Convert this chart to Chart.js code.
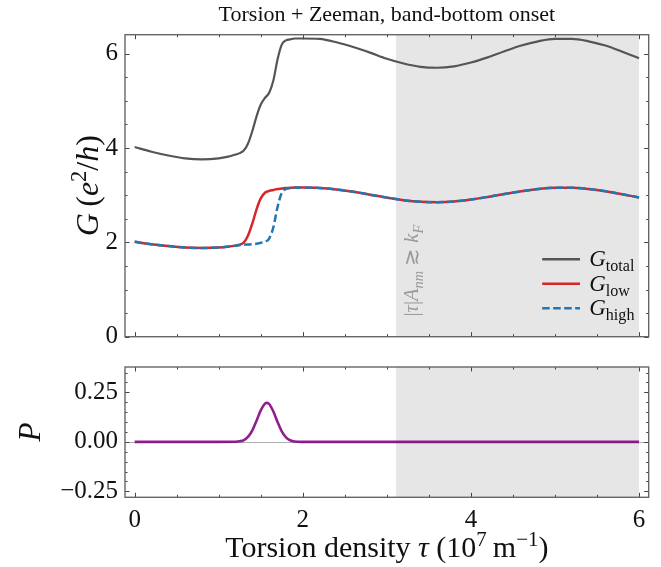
<!DOCTYPE html>
<html>
<head>
<meta charset="utf-8">
<script src="https://cdn.jsdelivr.net/npm/chart.js@4.4.0/dist/chart.umd.min.js"></script>
<style>
html, body { margin: 0; padding: 0; background: #fff; }
#wrap { position: relative; width: 661px; height: 567px; overflow: hidden; }
#top { position: absolute; left: 0; top: 0; }
#bot { position: absolute; left: 0; top: 345px; }
</style>
</head>
<body>
<div id="wrap">
  <canvas id="top" width="661" height="362"></canvas>
  <canvas id="bot" width="661" height="222"></canvas>
</div>
<script>
// torsion density (10^7 m^-1)
var tau = [0, 0.2, 0.4, 0.6, 0.8, 1.0, 1.1, 1.2, 1.25, 1.3, 1.35, 1.4, 1.45, 1.5, 1.55, 1.6, 1.65, 1.7, 1.75, 1.8, 1.85, 1.9,
           2.0, 2.2, 2.4, 2.6, 2.8, 3.0, 3.2, 3.4, 3.6, 3.8, 4.0, 4.2, 4.4, 4.6, 4.8, 5.0, 5.2, 5.4, 5.6, 5.8, 6.0];
var gTotal = [4.02, 3.92, 3.84, 3.78, 3.76, 3.78, 3.81, 3.86, 3.89, 3.95, 4.10, 4.36, 4.67, 4.92, 5.06, 5.17, 5.43, 5.88, 6.19, 6.28, 6.30, 6.32,
              6.32, 6.31, 6.24, 6.14, 6.02, 5.89, 5.79, 5.72, 5.70, 5.73, 5.81, 5.92, 6.05, 6.17, 6.26, 6.31, 6.31, 6.26, 6.17, 6.04, 5.90];
var gLow = [2.01, 1.96, 1.92, 1.89, 1.88, 1.89, 1.905, 1.93, 1.95, 2.00, 2.15, 2.40, 2.70, 2.93, 3.05, 3.09, 3.11, 3.13, 3.14, 3.15, 3.155, 3.16,
            3.16, 3.153, 3.121, 3.07, 3.009, 2.947, 2.894, 2.86, 2.85, 2.866, 2.906, 2.962, 3.025, 3.084, 3.13, 3.157, 3.157, 3.13, 3.084, 3.02, 2.95];
var gHigh = [2.01, 1.96, 1.92, 1.89, 1.88, 1.89, 1.905, 1.93, 1.94, 1.95, 1.955, 1.96, 1.97, 1.99, 2.01, 2.08, 2.32, 2.75, 3.05, 3.13, 3.15, 3.158,
             3.16, 3.153, 3.121, 3.07, 3.009, 2.947, 2.894, 2.86, 2.85, 2.866, 2.906, 2.962, 3.025, 3.084, 3.13, 3.157, 3.157, 3.13, 3.084, 3.02, 2.95];

// polarization
var tauP = [0, 0.5, 1.0, 1.2, 1.25, 1.3, 1.35, 1.4, 1.45, 1.5, 1.55, 1.575, 1.6, 1.65, 1.7, 1.75, 1.8, 1.85, 1.9, 2.0, 3.0, 4.0, 5.0, 6.0];
var pVals = [0, 0, 0, 0.0005, 0.003, 0.009, 0.026, 0.058, 0.107, 0.159, 0.193, 0.197, 0.191, 0.153, 0.100, 0.053, 0.023, 0.008, 0.002, 0, 0, 0, 0, 0];

// axes
var xRange = [-0.115, 6.115];
var xMajor = [0, 2, 4, 6];
var xMinor = [0.5, 1, 1.5, 2.5, 3, 3.5, 4.5, 5, 5.5];
var gRange = [0, 6.4];
var gMajor = [0, 2, 4, 6];
var gMinor = [0.5, 1, 1.5, 2.5, 3, 3.5, 4.5, 5, 5.5];
var pRange = [-0.28, 0.378];
var pMajor = [-0.25, 0, 0.25];
var pMinor = [-0.2, -0.15, -0.1, -0.05, 0.05, 0.1, 0.15, 0.2, 0.3, 0.35];
var shadeRange = [3.11, 6.0];

var FONT = '"Liberation Serif", "DejaVu Serif", serif';

function pts(xs, ys) {
    return xs.map(function (x, i) { return {x: x, y: ys[i]}; });
}
function fontStr(size, it) { return (it ? 'italic ' : '') + size + 'px ' + FONT; }
function partSize(p, size) { return (p.sub || p.sup) ? size * 0.7 : size; }
function richWidth(ctx, parts, size) {
    var w = 0;
    parts.forEach(function (p) {
        ctx.font = fontStr(partSize(p, size), p.it);
        w += ctx.measureText(p.t).width;
    });
    return w;
}
function drawRich(ctx, parts, x, y, size, align) {
    var w = richWidth(ctx, parts, size);
    var cx = align === 'center' ? x - w / 2 : (align === 'right' ? x - w : x);
    ctx.textAlign = 'left';
    ctx.textBaseline = 'alphabetic';
    parts.forEach(function (p) {
        ctx.font = fontStr(partSize(p, size), p.it);
        var dy = p.sub ? size * 0.22 : (p.sup ? -size * 0.38 : 0);
        ctx.fillText(p.t, cx, y + dy);
        cx += ctx.measureText(p.t).width;
    });
}

function tickMarks(ctx, area, sx, sy, xMaj, xMin, yMaj, yMin) {
    ctx.save();
    ctx.strokeStyle = '#444';
    ctx.lineWidth = 1;
    ctx.beginPath();
    function vt(vals, len) {
        vals.forEach(function (v) {
            var px = Math.round(sx.getPixelForValue(v)) + 0.5;
            ctx.moveTo(px, area.bottom); ctx.lineTo(px, area.bottom - len);
            ctx.moveTo(px, area.top); ctx.lineTo(px, area.top + len);
        });
    }
    function ht(vals, len) {
        vals.forEach(function (v) {
            var py = Math.round(sy.getPixelForValue(v)) + 0.5;
            ctx.moveTo(area.left, py); ctx.lineTo(area.left + len, py);
            ctx.moveTo(area.right, py); ctx.lineTo(area.right - len, py);
        });
    }
    vt(xMaj, 4.5); vt(xMin, 2.5); ht(yMaj, 4.5); ht(yMin, 2.5);
    ctx.stroke();
    ctx.strokeStyle = '#666';
    ctx.lineWidth = 1.4;
    ctx.strokeRect(area.left, area.top, area.right - area.left, area.bottom - area.top);
    ctx.restore();
}

function shade(chart) {
    var ctx = chart.ctx, a = chart.chartArea, sx = chart.scales.x;
    var x0 = sx.getPixelForValue(shadeRange[0]), x1 = sx.getPixelForValue(shadeRange[1]);
    ctx.save();
    ctx.fillStyle = '#e6e6e6';
    ctx.fillRect(x0, a.top, x1 - x0, a.bottom - a.top);
    ctx.restore();
}

var topPlugin = {
    id: 'topDecor',
    beforeDatasetsDraw: function (chart) {
        shade(chart);
        var ctx = chart.ctx, a = chart.chartArea;
        // onset annotation
        ctx.save();
        ctx.fillStyle = '#9a9a9a';
        ctx.translate(chart.scales.x.getPixelForValue(3.30) + 6, (a.top + a.bottom) / 2 + 85);
        ctx.rotate(-Math.PI / 2);
        drawRich(ctx, [{t: '|'}, {t: 'τ', it: 1}, {t: '|'}, {t: 'A', it: 1}, {t: 'nm', it: 1, sub: 1},
                       {t: ' ≳ '}, {t: 'k', it: 1}, {t: 'F', it: 1, sub: 1}], 0, 0, 20.5, 'center');
        ctx.restore();
    },
    afterDatasetsDraw: function (chart) {
        var ctx = chart.ctx, a = chart.chartArea;
        tickMarks(ctx, a, chart.scales.x, chart.scales.y, xMajor, xMinor, gMajor, gMinor);
        ctx.save();
        ctx.fillStyle = '#111';
        // title
        drawRich(ctx, [{t: 'Torsion + Zeeman, band-bottom onset'}], (a.left + a.right) / 2, 21, 22, 'center');
        // y label
        ctx.translate(98, (a.top + a.bottom) / 2);
        ctx.rotate(-Math.PI / 2);
        drawRich(ctx, [{t: 'G', it: 1}, {t: '\u2009('}, {t: 'e', it: 1}, {t: '2', sup: 1}, {t: '/'}, {t: 'h', it: 1}, {t: ')'}],
                 0, 0, 32, 'center');
        ctx.restore();
        // legend
        var items = [
            {sub: 'total', color: '#555555', dash: []},
            {sub: 'low', color: '#d62728', dash: []},
            {sub: 'high', color: '#1f77b4', dash: [7.5, 3.5]}
        ];
        ctx.save();
        items.forEach(function (it, i) {
            var cy = 259.3 + i * 24.5;
            ctx.strokeStyle = it.color;
            ctx.lineWidth = 2.5;
            ctx.setLineDash(it.dash);
            ctx.beginPath();
            ctx.moveTo(a.right - 106.5, cy); ctx.lineTo(a.right - 68.7, cy);
            ctx.stroke();
            ctx.fillStyle = '#111';
            drawRich(ctx, [{t: 'G', it: 1}, {t: it.sub, sub: 1}], a.right - 59.5, cy + 7, 23, 'left');
        });
        ctx.restore();
    }
};

var botPlugin = {
    id: 'botDecor',
    beforeDatasetsDraw: function (chart) {
        shade(chart);
        var ctx = chart.ctx, a = chart.chartArea;
        var y0 = Math.round(chart.scales.y.getPixelForValue(0)) + 0.5;
        ctx.save();
        ctx.strokeStyle = '#b0b0b0';
        ctx.lineWidth = 1;
        ctx.beginPath(); ctx.moveTo(a.left, y0); ctx.lineTo(a.right, y0); ctx.stroke();
        ctx.restore();
    },
    afterDatasetsDraw: function (chart) {
        var ctx = chart.ctx, a = chart.chartArea;
        tickMarks(ctx, a, chart.scales.x, chart.scales.y, xMajor, xMinor, pMajor, pMinor);
        ctx.save();
        ctx.fillStyle = '#111';
        drawRich(ctx, [{t: 'Torsion density '}, {t: 'τ', it: 1}, {t: ' (10'}, {t: '7', sup: 1}, {t: '\u2009m'}, {t: '−1', sup: 1}, {t: ')'}],
                 (a.left + a.right) / 2, 212, 30, 'center');
        ctx.translate(40, (a.top + a.bottom) / 2);
        ctx.rotate(-Math.PI / 2);
        drawRich(ctx, [{t: 'P', it: 1}], 0, 0, 31, 'center');
        ctx.restore();
    }
};

var tickFont = {family: FONT, size: 25};

new Chart(document.getElementById('top'), {
    type: 'line',
    data: {
        datasets: [
            {label: 'G_high', data: pts(tau, gHigh), borderColor: '#1f77b4', borderDash: [7.5, 3.5], borderWidth: 2.5, order: 0},
            {label: 'G_low', data: pts(tau, gLow), borderColor: '#d62728', borderWidth: 2.5, order: 1},
            {label: 'G_total', data: pts(tau, gTotal), borderColor: '#555555', borderWidth: 2.2, order: 2}
        ]
    },
    options: {
        responsive: false,
        animation: false,
        devicePixelRatio: 1,
        layout: {padding: {top: 34.7, right: 12.3, bottom: 25.3, left: 0}},
        elements: {point: {radius: 0}, line: {cubicInterpolationMode: 'monotone', fill: false}},
        plugins: {legend: {display: false}, tooltip: {enabled: false}},
        scales: {
            x: {type: 'linear', min: xRange[0], max: xRange[1], display: false},
            y: {
                type: 'linear', min: gRange[0], max: gRange[1],
                afterFit: function (s) { s.width = 125; },
                afterBuildTicks: function (s) { s.ticks = gMajor.map(function (v) { return {value: v}; }); },
                grid: {display: false, drawTicks: false},
                border: {display: false},
                ticks: {font: tickFont, color: '#111', padding: 7, callback: function (v) { return String(v); }}
            }
        }
    },
    plugins: [topPlugin]
});

new Chart(document.getElementById('bot'), {
    type: 'line',
    data: {
        datasets: [
            {label: 'P', data: pts(tauP, pVals), borderColor: 'rgba(128,0,128,0.88)', borderWidth: 2.6}
        ]
    },
    options: {
        responsive: false,
        animation: false,
        devicePixelRatio: 1,
        layout: {padding: {top: 16.7, right: 12.3, bottom: 0, left: 0}},
        elements: {point: {radius: 0}, line: {cubicInterpolationMode: 'monotone', fill: false}},
        plugins: {legend: {display: false}, tooltip: {enabled: false}},
        scales: {
            x: {
                type: 'linear', min: xRange[0], max: xRange[1],
                afterFit: function (s) { s.height = 69.7; },
                afterBuildTicks: function (s) { s.ticks = xMajor.map(function (v) { return {value: v}; }); },
                grid: {display: false, drawTicks: false},
                border: {display: false},
                ticks: {font: tickFont, color: '#111', padding: 8, maxRotation: 0, callback: function (v) { return String(v); }}
            },
            y: {
                type: 'linear', min: pRange[0], max: pRange[1],
                afterFit: function (s) { s.width = 125; },
                afterBuildTicks: function (s) { s.ticks = pMajor.map(function (v) { return {value: v}; }); },
                grid: {display: false, drawTicks: false},
                border: {display: false},
                ticks: {font: tickFont, color: '#111', padding: 7,
                        callback: function (v) { return (v < 0 ? '\u2212' : '') + Math.abs(v).toFixed(2); }}
            }
        }
    },
    plugins: [botPlugin]
});
</script>
</body>
</html>
